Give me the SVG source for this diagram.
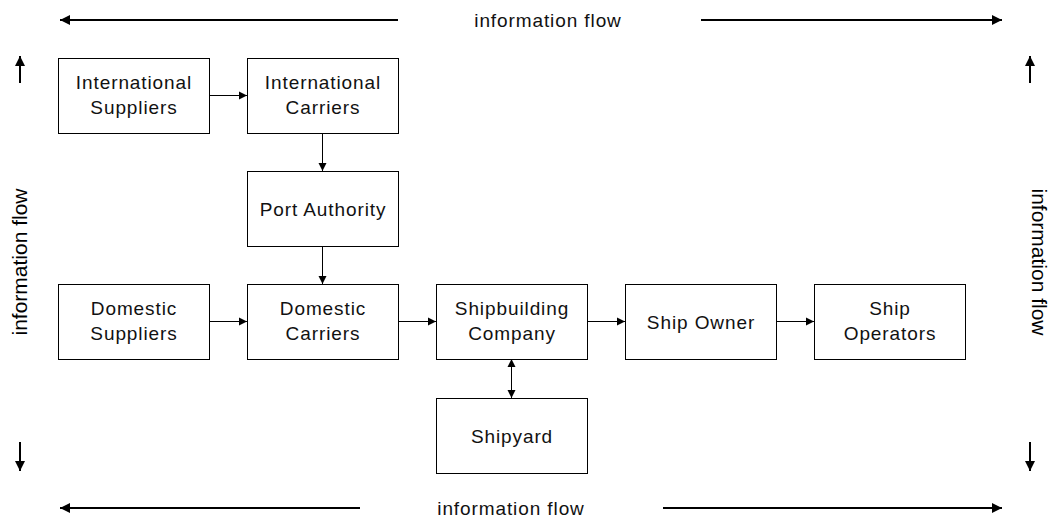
<svg xmlns="http://www.w3.org/2000/svg" width="1050" height="522" viewBox="0 0 1050 522">
<defs>
<style>
.box{fill:#fff;stroke:#000;stroke-width:1}
.lbl{font-family:"Liberation Sans",Arial,sans-serif;font-size:19px;letter-spacing:0.9px;text-anchor:middle;fill:#111}
.side{font-family:"Liberation Sans",Arial,sans-serif;font-size:21px;text-anchor:middle;fill:#000}
.con{stroke:#000;stroke-width:1;fill:none}
.flow{stroke:#000;stroke-width:2;fill:none}
</style>
<marker id="ah" viewBox="0 0 10 10" refX="10" refY="5" markerWidth="8" markerHeight="11" markerUnits="userSpaceOnUse" orient="auto-start-reverse">
<path d="M0,0 L10,5 L0,10 Z" fill="#000"/>
</marker>
<marker id="fh" viewBox="0 0 10 10" refX="10" refY="5" markerWidth="10" markerHeight="12" markerUnits="userSpaceOnUse" orient="auto-start-reverse">
<path d="M0,0 L10,5 L0,10 Z" fill="#000"/>
</marker>
</defs>
<rect width="1050" height="522" fill="#fff"/>
<g id="connectors">
<path class="con" d="M210,95.5 H247" marker-end="url(#ah)"/>
<path class="con" d="M322.5,133 V171" marker-end="url(#ah)"/>
<path class="con" d="M322.5,247 V284" marker-end="url(#ah)"/>
<path class="con" d="M210,321.5 H247" marker-end="url(#ah)"/>
<path class="con" d="M398,321.5 H436" marker-end="url(#ah)"/>
<path class="con" d="M587,321.5 H625" marker-end="url(#ah)"/>
<path class="con" d="M777,321.5 H814" marker-end="url(#ah)"/>
<path class="con" d="M511.5,359 V398" marker-start="url(#ah)" marker-end="url(#ah)"/>
</g>
<g id="flow-top">
<path class="flow" d="M398,20 H60" marker-end="url(#fh)"/>
<path class="flow" d="M701,20 H1002" marker-end="url(#fh)"/>
<text class="lbl" x="548" y="27">information flow</text>
</g>
<g id="flow-bottom">
<path class="flow" d="M360,508 H60" marker-end="url(#fh)"/>
<path class="flow" d="M663,508 H1002" marker-end="url(#fh)"/>
<text class="lbl" x="511" y="515">information flow</text>
</g>
<g id="flow-left">
<path class="flow" d="M20,83 V56" marker-end="url(#fh)"/>
<path class="flow" d="M20,442 V471" marker-end="url(#fh)"/>
<text class="side" transform="translate(27,262) rotate(-90)">information flow</text>
</g>
<g id="flow-right">
<path class="flow" d="M1030,83 V56" marker-end="url(#fh)"/>
<path class="flow" d="M1030,442 V471" marker-end="url(#fh)"/>
<text class="side" transform="translate(1032,262) rotate(90)">information flow</text>
</g>
<g id="international-suppliers">
<rect class="box" x="58.5" y="58.5" width="151" height="75"/>
<text class="lbl" x="134" y="89">International</text>
<text class="lbl" x="134" y="114">Suppliers</text>
</g>
<g id="international-carriers">
<rect class="box" x="247.5" y="58.5" width="151" height="75"/>
<text class="lbl" x="323" y="89">International</text>
<text class="lbl" x="323" y="114">Carriers</text>
</g>
<g id="port-authority">
<rect class="box" x="247.5" y="171.5" width="151" height="75"/>
<text class="lbl" x="323" y="216">Port Authority</text>
</g>
<g id="domestic-suppliers">
<rect class="box" x="58.5" y="284.5" width="151" height="75"/>
<text class="lbl" x="134" y="315">Domestic</text>
<text class="lbl" x="134" y="340">Suppliers</text>
</g>
<g id="domestic-carriers">
<rect class="box" x="247.5" y="284.5" width="151" height="75"/>
<text class="lbl" x="323" y="315">Domestic</text>
<text class="lbl" x="323" y="340">Carriers</text>
</g>
<g id="shipbuilding-company">
<rect class="box" x="436.5" y="284.5" width="151" height="75"/>
<text class="lbl" x="512" y="315">Shipbuilding</text>
<text class="lbl" x="512" y="340">Company</text>
</g>
<g id="ship-owner">
<rect class="box" x="625.5" y="284.5" width="151" height="75"/>
<text class="lbl" x="701" y="329">Ship Owner</text>
</g>
<g id="ship-operators">
<rect class="box" x="814.5" y="284.5" width="151" height="75"/>
<text class="lbl" x="890" y="315">Ship</text>
<text class="lbl" x="890" y="340">Operators</text>
</g>
<g id="shipyard">
<rect class="box" x="436.5" y="398.5" width="151" height="75"/>
<text class="lbl" x="512" y="443">Shipyard</text>
</g>
</svg>
